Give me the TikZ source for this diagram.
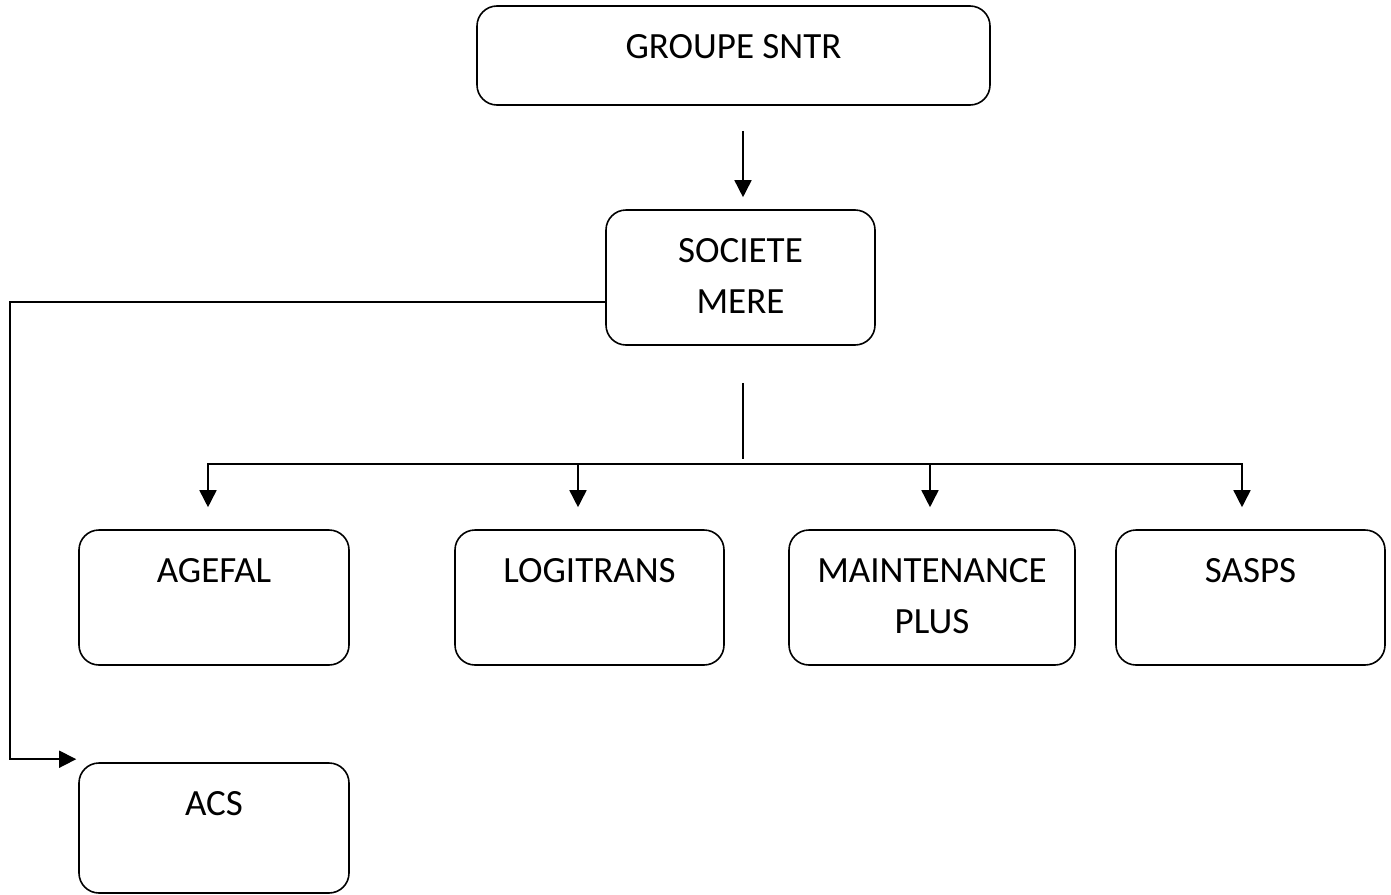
\documentclass[tikz,border=0pt]{standalone}
\usepackage{fontspec}
\setmainfont{Carlito}
\usetikzlibrary{arrows.meta}
\tikzset{
  boxtext/.style={anchor=north, yshift=-14.5pt, align=center, inner sep=0pt},
  orgbox/.style={draw, line width=0.8pt, rounded corners=10pt, minimum width=135pt,
    minimum height=67.5pt, inner sep=0pt, label={[boxtext]north:#1}},
  arr/.style={line width=0.8pt, -{Triangle[width=8.5pt,length=8.5pt]}}
}
\begin{document}
\begin{tikzpicture}[x=0.5pt, y=-0.5pt, font=\fontsize{18.5pt}{25.5pt}\selectfont]
\useasboundingbox (0,0) rectangle (1391,894);
\node[orgbox={GROUPE SNTR}, minimum width=256.5pt, minimum height=49.5pt] (groupe) at (733.5,55.5){};
\node[orgbox={SOCIETE\\MERE}, minimum width=134.5pt] (societe) at (740.5,277.5){};
\node[orgbox={AGEFAL}] (agefal) at (214,597.5){};
\node[orgbox={LOGITRANS}, minimum width=134.5pt] (logitrans) at (589.5,597.5){};
\node[orgbox={MAINTENANCE\\PLUS}, minimum width=143pt] (maint) at (932,597.5){};
\node[orgbox={SASPS}, minimum width=134.5pt] (sasps) at (1250.5,597.5){};
\node[orgbox={ACS}, minimum height=65pt] (acs) at (214,828){};
\coordinate (bus) at (743,464);
\coordinate (leftrail) at (10,500);

\draw[arr, shorten <=12.5pt, shorten >=6pt] ([xshift=1.25pt]groupe.south -| societe.north) -- ([xshift=1.25pt]societe.north);
\draw[line width=0.8pt, shorten <=18.5pt, shorten >=2.5pt] (societe.south -| bus) -- (bus);
\foreach \b/\dx in {agefal/-3, logitrans/-5.75, maint/-1, sasps/-4.25}
  \draw[arr, shorten >=11pt] (bus) -| ([xshift=\dx pt]\b.north);
\draw[arr, shorten >=1pt] ([yshift=-12.25pt]societe.west) -| (leftrail) |- ([yshift=1.5pt]acs.north west);

\end{tikzpicture}
\end{document}
